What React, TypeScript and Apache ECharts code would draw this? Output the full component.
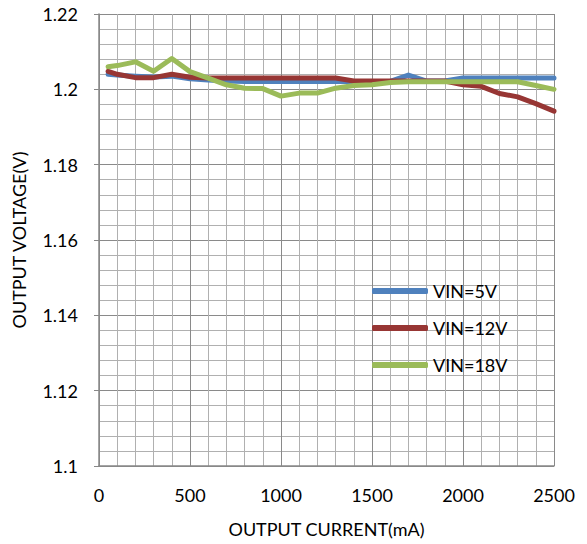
import React, { useEffect, useRef } from "react";
import * as echarts from "echarts";

const currents = [50, 100, 200, 300, 400, 500, 600, 700, 800, 900, 1000, 1100, 1200, 1300, 1400, 1500, 1600, 1700, 1800, 1900, 2000, 2100, 2200, 2300, 2400, 2500];
const vin5 = [1.204, 1.2038, 1.2035, 1.2033, 1.2035, 1.2028, 1.2025, 1.2022, 1.2021, 1.2021, 1.2021, 1.2021, 1.2021, 1.2021, 1.2021, 1.2021, 1.2021, 1.2038, 1.2022, 1.2022, 1.203, 1.203, 1.203, 1.203, 1.203, 1.203];
const vin12 = [1.2048, 1.204, 1.2031, 1.2031, 1.204, 1.2032, 1.203, 1.203, 1.203, 1.203, 1.203, 1.203, 1.203, 1.203, 1.2022, 1.2022, 1.2022, 1.2022, 1.2022, 1.2022, 1.2012, 1.2008, 1.1989, 1.198, 1.1962, 1.1942];
const vin18 = [1.206, 1.2063, 1.2073, 1.2048, 1.2082, 1.2047, 1.203, 1.2012, 1.2003, 1.2002, 1.1982, 1.199, 1.199, 1.2003, 1.201, 1.2012, 1.2018, 1.202, 1.202, 1.202, 1.202, 1.202, 1.202, 1.202, 1.201, 1.2];
const seriesNames = ["VIN=5V", "VIN=12V", "VIN=18V"];
const seriesColors = ["#4F81BD", "#973634", "#9BBB59"];

export default function App() {
  const ref = useRef<HTMLDivElement>(null);
  useEffect(() => {
    if (!ref.current) return;
    const chart = echarts.init(ref.current, null, { renderer: "svg" });
    const font = "Lato, 'Open Sans', sans-serif";
    const data = [vin5, vin12, vin18];
    chart.setOption({
      animation: false,
      backgroundColor: "#ffffff",
      textStyle: { fontFamily: font },
      grid: { left: 99, right: 33, top: 14, bottom: 78 },
      legend: {
        orient: "vertical",
        left: 367,
        top: 277,
        itemWidth: 56,
        itemHeight: 6,
        itemGap: 19,
        icon: "roundRect",
        textStyle: { fontSize: 18, lineHeight: 18, color: "#000", fontFamily: font },
        data: seriesNames,
      },
      xAxis: {
        type: "value",
        min: 0,
        max: 2500,
        interval: 500,
        name: "OUTPUT CURRENT(mA)",
        nameLocation: "middle",
        nameGap: 54,
        nameTextStyle: { fontSize: 18, color: "#000", fontFamily: font },
        axisLine: { show: true, lineStyle: { color: "#888", width: 1.5 } },
        axisTick: { show: true, inside: true, length: 4, lineStyle: { color: "#888" } },
        axisLabel: { fontSize: 18, color: "#000", margin: 20, fontFamily: font, formatter: (v: number) => String(v) },
        splitLine: { show: true, lineStyle: { color: "#8a8a8a", width: 1 } },
        minorTick: { show: false, splitNumber: 5 },
        minorSplitLine: { show: true, lineStyle: { color: "#b0b0b0", width: 1 } },
      },
      yAxis: {
        type: "value",
        min: 1.1,
        max: 1.22,
        interval: 0.02,
        name: "OUTPUT VOLTAGE(V)",
        nameLocation: "middle",
        nameGap: 71,
        nameRotate: 90,
        nameTextStyle: { fontSize: 18, color: "#000", fontFamily: font },
        axisLine: { show: true, lineStyle: { color: "#888", width: 1.5 } },
        axisTick: { show: true, length: 5, lineStyle: { color: "#888" } },
        axisLabel: { fontSize: 18, color: "#000", margin: 21, fontFamily: font, formatter: (v: number) => String(parseFloat(v.toFixed(2))) },
        splitLine: { show: true, lineStyle: { color: "#8a8a8a", width: 1 } },
        minorTick: { show: false, splitNumber: 5 },
        minorSplitLine: { show: true, lineStyle: { color: "#b0b0b0", width: 1 } },
      },
      series: seriesNames.map((name, i) => ({
        name,
        type: "line",
        data: currents.map((c, j) => [c, data[i][j]]),
        showSymbol: false,
        symbol: "none",
        color: seriesColors[i],
        lineStyle: { color: seriesColors[i], width: 5, cap: "round", join: "round" },
        z: 3 + i,
      })),
    });
    return () => chart.dispose();
  }, []);
  return <div ref={ref} style={{ width: 587, height: 544, position: "absolute", left: 0, top: 0 }} />;
}
